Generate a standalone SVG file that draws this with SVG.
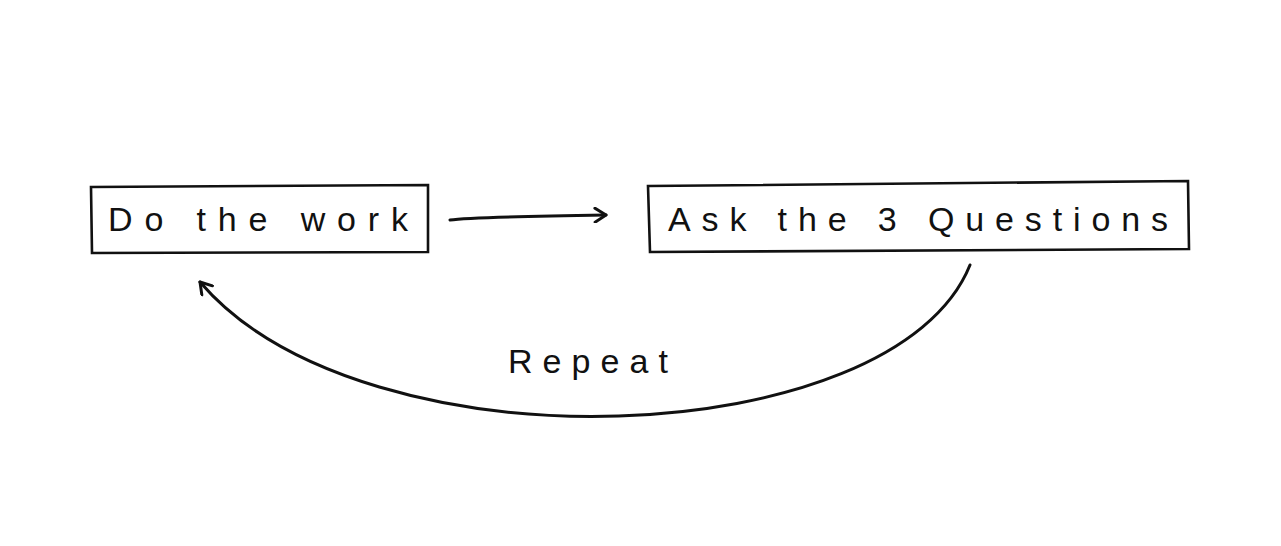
<svg xmlns="http://www.w3.org/2000/svg" width="1281" height="546" viewBox="0 0 1281 546">
<style>
.box{fill:#fff;stroke:#111;stroke-width:2.6;}
.lbl{font-family:"Liberation Sans",sans-serif;font-size:34px;fill:#111;}
.conn{fill:none;stroke:#111;stroke-width:3;stroke-linecap:round;}
</style>
<defs>
<marker id="arr2" viewBox="0 0 16 16" refX="13" refY="8" markerWidth="16" markerHeight="16" markerUnits="userSpaceOnUse" orient="auto">
<path d="M2,1 L13,8 L2,15" fill="none" stroke="#111" stroke-width="3" stroke-linecap="round" stroke-linejoin="round"/>
</marker>
</defs>
<rect width="1281" height="546" fill="#fff"/>
<g id="node-do-work">
<path class="box" d="M91,187 L428,185 L428,252 L92,253 Z"/>
<text class="lbl" x="108" y="231" textLength="300" lengthAdjust="spacing">Do the work</text>
</g>
<g id="node-ask">
<path class="box" d="M648,186 L1188,181 L1189,249 L650,252 Z"/>
<text class="lbl" x="668" y="231" textLength="500" lengthAdjust="spacing">Ask the 3 Questions</text>
</g>
<g id="connectors">
<path class="conn" d="M450,220 Q470,217 606,215" marker-end="url(#arr2)"/>
<path class="conn" d="M970,265 C895,452 365,475 200,282" marker-end="url(#arr2)"/>
<text class="lbl" x="508" y="373" textLength="160" lengthAdjust="spacing">Repeat</text>
</g>
</svg>
